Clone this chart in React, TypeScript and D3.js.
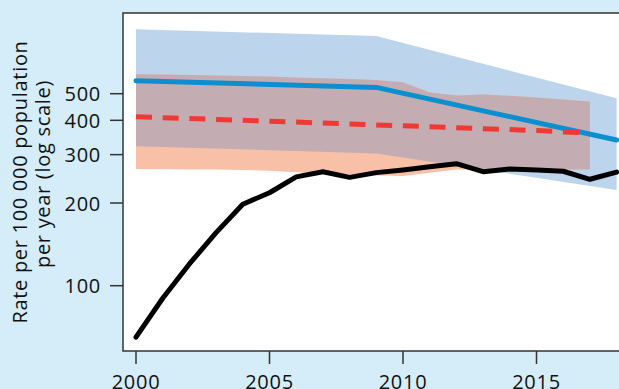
import React from "react";
import * as d3 from "d3";

const observedYears = [2000, 2001, 2002, 2003, 2004, 2005, 2006, 2007, 2008, 2009, 2010, 2011, 2012, 2013, 2014, 2015, 2016, 2017, 2018];
const observedRate = [65, 90, 120, 156, 198, 218, 249, 260, 248, 258, 264, 271, 278, 260, 266, 264, 261, 244, 259];

const modelAYears = [2000, 2009, 2018];
const modelAMean = [557, 527, 339];
const modelAUpper = [858, 811, 481];
const modelALower = [322, 303, 223];

const modelBYears = [2000, 2001, 2002, 2003, 2004, 2005, 2006, 2007, 2008, 2009, 2010, 2011, 2012, 2013, 2014, 2015, 2016, 2017];
const modelBMean = [412, 409, 406, 403, 400, 397, 394, 391, 388, 385, 382, 379, 376, 373, 370, 367, 363, 360];
const modelBUpper = [589, 587, 585, 583, 580, 577, 573, 569, 565, 561, 550, 505, 493, 497, 491, 484, 476, 468];
const modelBLower = [266, 266, 265, 265, 264, 262, 259, 256, 254, 252, 251, 258, 265, 265, 265, 265, 265, 265];

const xTicks = [2000, 2005, 2010, 2015];
const yTicks = [100, 200, 300, 400, 500];
const yTitle = ["Rate per 100 000 population", "per year (log scale)"];

const W = 619;
const H = 389;
const FONT = "'Open Sans', sans-serif";
const FS = 20;
const LS = 0.7;

export default function App() {
  const x = d3.scaleLinear().domain([2000, 2015]).range([136, 536.5]);
  const y = d3.scaleLog().domain([100, 500]).range([285.7, 93.7]);

  const plotLeft = 123;
  const plotTop = 13;
  const plotBottom = 351;

  const bandA = modelAYears.map((yr, i) => ({ x: yr, lo: modelALower[i], hi: modelAUpper[i] }));
  const bandB = modelBYears.map((yr, i) => ({ x: yr, lo: modelBLower[i], hi: modelBUpper[i] }));
  const area = d3
    .area<{ x: number; lo: number; hi: number }>()
    .x((d) => x(d.x))
    .y0((d) => y(d.lo))
    .y1((d) => y(d.hi));
  const line = d3
    .line<[number, number]>()
    .x((d) => x(d[0]))
    .y((d) => y(d[1]));

  const obs = observedYears.map((yr, i) => [yr, observedRate[i]] as [number, number]);
  const meanA = modelAYears.map((yr, i) => [yr, modelAMean[i]] as [number, number]);
  const meanB = modelBYears.map((yr, i) => [yr, modelBMean[i]] as [number, number]);

  return (
    <svg
      width={W}
      height={H}
      style={{ position: "absolute", left: 0, top: 0, display: "block" }}
      fontFamily={FONT}
    >
      <defs>
        <clipPath id="clipA">
          <path d={area(bandA) || ""} />
        </clipPath>
      </defs>
      <rect x={0} y={0} width={W} height={H} fill="#d4edf9" />
      <rect x={plotLeft} y={plotTop} width={W + 20 - plotLeft} height={plotBottom - plotTop} fill="#ffffff" stroke="#333333" strokeWidth={1.5} />

      <path d={area(bandA) || ""} fill="#bdd4ed" />
      <path d={area(bandB) || ""} fill="#f9c0a8" />
      <path d={area(bandB) || ""} fill="#c3adb3" clipPath="url(#clipA)" />

      <path d={line(obs) || ""} fill="none" stroke="#000000" strokeWidth={5} strokeLinejoin="round" strokeLinecap="round" />
      <path d={line(meanA) || ""} fill="none" stroke="#0b8fce" strokeWidth={5} strokeLinejoin="round" strokeLinecap="round" />
      <path d={line(meanB) || ""} fill="none" stroke="#ee3a34" strokeWidth={5} strokeDasharray="16 10.7" />

      {yTicks.map((t) => (
        <g key={t}>
          <line x1={110} x2={plotLeft} y1={y(t)} y2={y(t)} stroke="#333333" strokeWidth={1.5} />
          <text x={101} y={y(t)} textAnchor="end" dominantBaseline="central" fontSize={FS} letterSpacing={LS} fill="#111">
            {t}
          </text>
        </g>
      ))}
      {xTicks.map((t) => (
        <g key={t}>
          <line x1={x(t)} x2={x(t)} y1={plotBottom} y2={364} stroke="#333333" strokeWidth={1.5} />
          <text x={x(t)} y={389} textAnchor="middle" fontSize={FS} letterSpacing={LS} fill="#111">
            {t}
          </text>
        </g>
      ))}

      <text transform="translate(27,182) rotate(-90)" textAnchor="middle" fontSize={FS} letterSpacing={LS} fill="#111">
        {yTitle[0]}
      </text>
      <text transform="translate(50,174) rotate(-90)" textAnchor="middle" fontSize={FS} letterSpacing={LS} fill="#111">
        {yTitle[1]}
      </text>
    </svg>
  );
}
